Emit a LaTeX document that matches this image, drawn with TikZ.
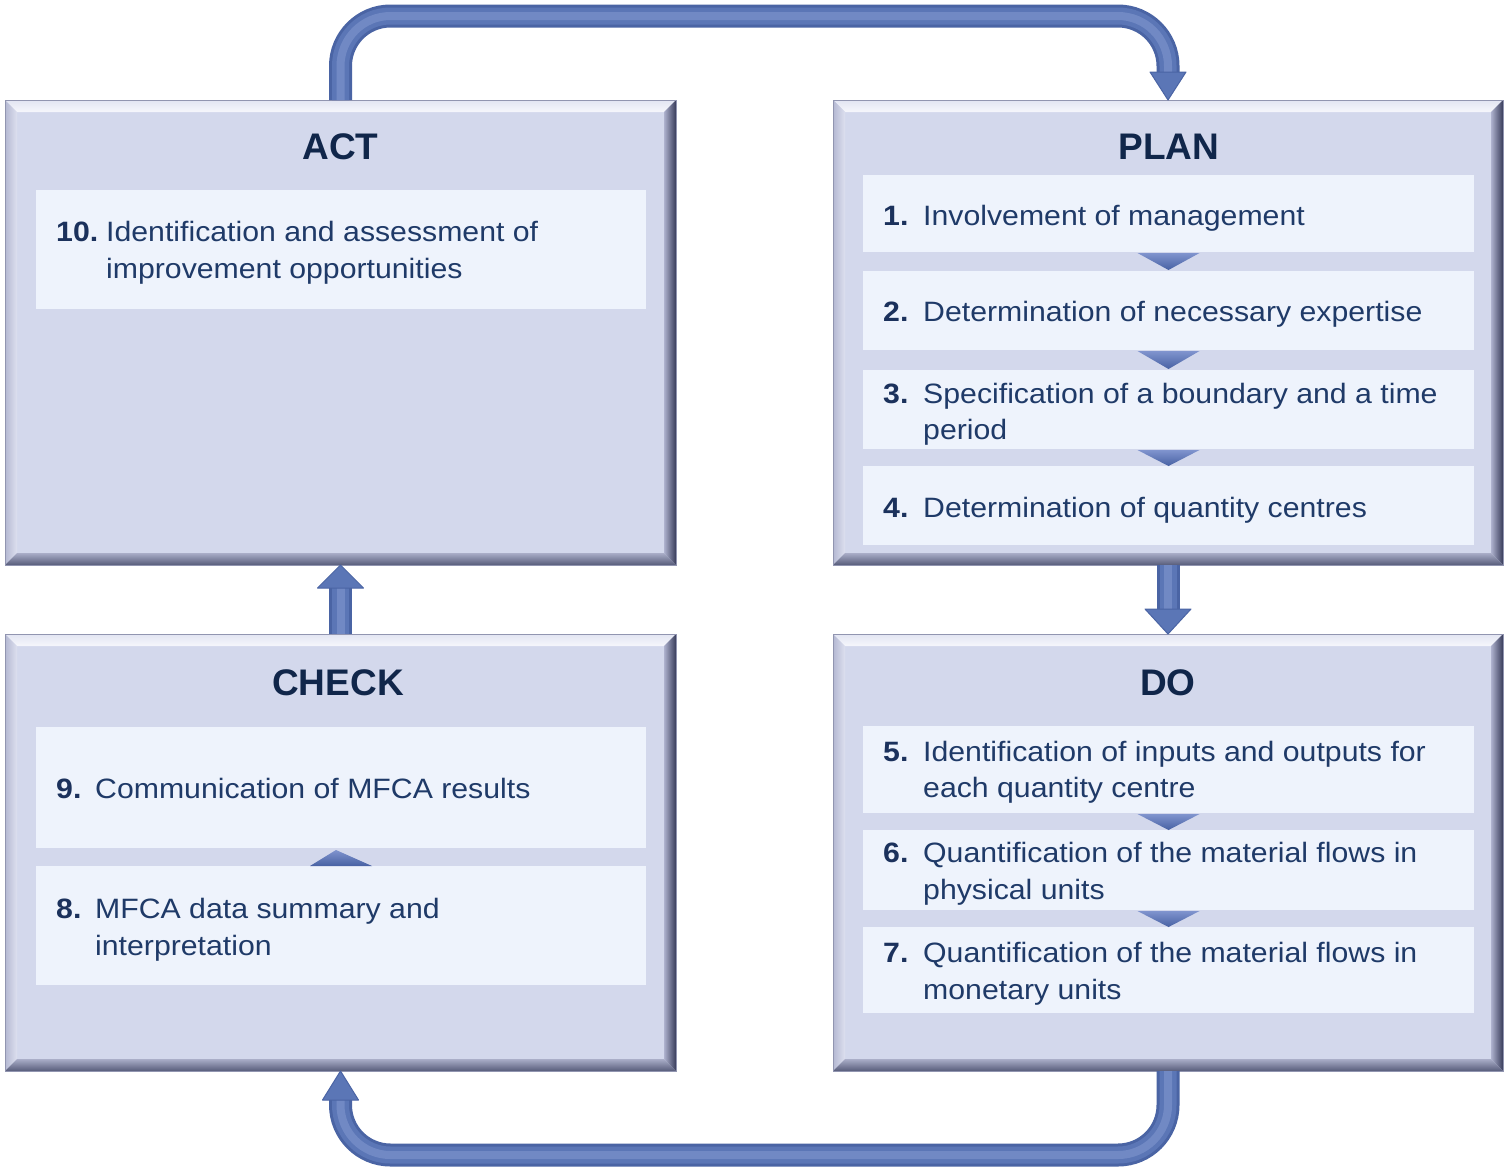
\documentclass[tikz,border=0pt]{standalone}
\usepackage{fontspec}
\setmainfont{Liberation Sans}
\newfontfamily\bodyfont{Liberation Sans}[FakeStretch=1.08]
\usetikzlibrary{calc}
\definecolor{boxfill}{HTML}{D3D8EC}
\definecolor{itemfill}{HTML}{EEF3FC}
\definecolor{bvtopA}{HTML}{E2E5F2}
\definecolor{bvtopB}{HTML}{F6F7FC}
\definecolor{bvlA}{HTML}{B4B8D2}
\definecolor{bvlB}{HTML}{DDE0EF}
\definecolor{bvrA}{HTML}{AEB2CE}
\definecolor{bvrB}{HTML}{383C5A}
\definecolor{bvbA}{HTML}{AAAEC8}
\definecolor{bvbB}{HTML}{575C7A}
\definecolor{boxline}{HTML}{9195B0}
\definecolor{txtcol}{HTML}{1F3A68}
\definecolor{numcol}{HTML}{1B315C}
\definecolor{titlecol}{HTML}{10264A}
\definecolor{arrmain}{HTML}{5B76B6}
\definecolor{arrdark}{HTML}{4A64A4}
\definecolor{arrhi}{HTML}{8DA2D6}
\definecolor{chevA}{HTML}{8094CE}
\definecolor{chevB}{HTML}{4761A3}
\newcommand\bevbox[4]{%
  \fill[boxfill] (#1,#2) rectangle (#3,#4);
  \shade[top color=bvtopA,bottom color=bvtopB] (#1,#2) -- (#3,#2) -- ({#3-12},{#2+12}) -- ({#1+12},{#2+12}) -- cycle;
  \shade[left color=bvlA,right color=bvlB] (#1,#2) -- ({#1+12},{#2+12}) -- ({#1+12},{#4-12}) -- (#1,#4) -- cycle;
  \shade[left color=bvrA,right color=bvrB] (#3,#2) -- (#3,#4) -- ({#3-12},{#4-12}) -- ({#3-12},{#2+12}) -- cycle;
  \shade[top color=bvbA,bottom color=bvbB] (#1,#4) -- (#3,#4) -- ({#3-12},{#4-12}) -- ({#1+12},{#4-12}) -- cycle;
  \draw[boxline,line width=0.8bp] (#1,#2) rectangle (#3,#4);
}
\begin{document}
\begin{tikzpicture}[x=1bp,y=-1bp,
  frame/.style={inner sep=0pt,outer sep=0pt,draw=none},
  item/.style={fill=itemfill,inner sep=0pt,outer sep=0pt,draw=none},
  num/.style={anchor=base west,inner sep=0pt,text=numcol,font=\bodyfont\bfseries\fontsize{28bp}{34bp}\selectfont},
  txt/.style={anchor=base west,inner sep=0pt,text=txtcol,font=\bodyfont\fontsize{28bp}{34bp}\selectfont},
  title/.style={anchor=base,inner sep=0pt,text=titlecol,font=\bfseries\fontsize{37bp}{40bp}\selectfont},
  tube/.style={draw=arrdark,line width=23bp,postaction={draw=arrmain,line width=17bp},postaction={draw=arrhi,line width=8bp,draw opacity=0.45}},
  head/.style={fill=arrmain,draw=arrdark,line width=1bp,line join=round},
  chev/.style={top color=chevA,bottom color=chevB}
]
\useasboundingbox (0,0) rectangle (1504,1168);
\fill[white] (0,0) rectangle (1504,1168);

% ---- boxes ----
\bevbox{5}{100}{676}{565}
\bevbox{833}{100}{1503}{565}
\bevbox{5}{634}{676}{1071}
\bevbox{833}{634}{1503}{1071}
\node[frame,minimum width=671bp,minimum height=465bp] (act) at (340.5,332.5) {};
\node[frame,minimum width=670bp,minimum height=465bp] (plan) at (1168,332.5) {};
\node[frame,minimum width=671bp,minimum height=437bp] (check) at (340.5,852.5) {};
\node[frame,minimum width=670bp,minimum height=437bp] (do) at (1168,852.5) {};

% ---- titles ----
\node[title] (tact) at (340.5,159) {ACT};
\node[title] (tplan) at (1169,159) {PLAN};
\node[title] (tcheck) at (338,695) {CHECK};
\node[title] (tdo) at (1168,695) {DO};

% ---- item boxes ----
\node[item,minimum width=610bp,minimum height=119bp] (a10) at (341,249.5) {};
\node[item,minimum width=611bp,minimum height=77bp] (p1) at (1168.5,213.5) {};
\node[item,minimum width=611bp,minimum height=79bp] (p2) at (1168.5,310.5) {};
\node[item,minimum width=611bp,minimum height=79bp] (p3) at (1168.5,409.5) {};
\node[item,minimum width=611bp,minimum height=79bp] (p4) at (1168.5,505.5) {};
\node[item,minimum width=610bp,minimum height=121bp] (c9) at (341,787.5) {};
\node[item,minimum width=610bp,minimum height=119bp] (c8) at (341,925.5) {};
\node[item,minimum width=611bp,minimum height=87bp] (d5) at (1168.5,769.5) {};
\node[item,minimum width=611bp,minimum height=80bp] (d6) at (1168.5,870) {};
\node[item,minimum width=611bp,minimum height=86bp] (d7) at (1168.5,970) {};

% ---- item texts ----
\node[num] (n10) at (56,241) {10.};
\node[txt] (t10a) at (106,241) {Identification and assessment of};
\node[txt] (t10b) at (106,278) {improvement opportunities};

\node[num] (n1) at (883,225) {1.};
\node[txt] (t1) at (923,225) {Involvement of management};
\node[num] (n2) at (883,321) {2.};
\node[txt] (t2) at (923,321) {Determination of necessary expertise};
\node[num] (n3) at (883,403) {3.};
\node[txt] (t3a) at (923,403) {Specification of a boundary and a time};
\node[txt] (t3b) at (923,439) {period};
\node[num] (n4) at (883,517) {4.};
\node[txt] (t4) at (923,517) {Determination of quantity centres};

\node[num] (n9) at (56,798) {9.};
\node[txt] (t9) at (95,798) {Communication of MFCA results};
\node[num] (n8) at (56,918) {8.};
\node[txt] (t8a) at (95,918) {MFCA data summary and};
\node[txt] (t8b) at (95,955) {interpretation};

\node[num] (n5) at (883,761) {5.};
\node[txt] (t5a) at (923,761) {Identification of inputs and outputs for};
\node[txt] (t5b) at (923,797) {each quantity centre};
\node[num] (n6) at (883,862) {6.};
\node[txt] (t6a) at (923,862) {Quantification of the material flows in};
\node[txt] (t6b) at (923,899) {physical units};
\node[num] (n7) at (883,962) {7.};
\node[txt] (t7a) at (923,962) {Quantification of the material flows in};
\node[txt] (t7b) at (923,999) {monetary units};

% ---- chevrons between items ----
\shade[chev] ($(p1.south)+(-31,1)$) -- ($(p1.south)+(31,1)$) -- ($(p2.north)+(0,-1)$) -- cycle;
\shade[chev] ($(p2.south)+(-31,1)$) -- ($(p2.south)+(31,1)$) -- ($(p3.north)+(0,-1)$) -- cycle;
\shade[chev] ($(p3.south)+(-31,1)$) -- ($(p3.south)+(31,1)$) -- ($(p4.north)+(0,0)$) -- cycle;
\shade[chev] ($(d5.south)+(-31,1)$) -- ($(d5.south)+(31,1)$) -- ($(d6.north)+(0,0)$) -- cycle;
\shade[chev] ($(d6.south)+(-31,1)$) -- ($(d6.south)+(31,1)$) -- ($(d7.north)+(0,0)$) -- cycle;
\shade[top color=chevA,bottom color=chevB] ($(c8.north)+(-31,0)$) -- ($(c8.north)+(31,0)$) -- ($(c9.south)+(-5,2)$) -- cycle;

% ---- big connectors ----
\coordinate (topend) at (1168,72);
\draw[tube,rounded corners=50bp] (act.north) |- (1168,16) -- (topend);
\draw[head] ($(topend)+(-18,0)$) -- ($(topend)+(18,0)$) -- (plan.north) -- cycle;

\coordinate (pdend) at (1168,609);
\draw[tube] (plan.south) -- (pdend);
\draw[head] ($(pdend)+(-23,0)$) -- ($(pdend)+(23,0)$) -- (do.north) -- cycle;

\coordinate (caend) at (340.5,588);
\draw[tube] (check.north) -- (caend);
\draw[head] ($(caend)+(-23,0)$) -- ($(caend)+(23,0)$) -- (act.south) -- cycle;

\coordinate (botend) at (340.5,1100);
\draw[tube,rounded corners=50bp] (do.south) |- (340.5,1155) -- (botend);
\draw[head] ($(botend)+(-18,0)$) -- ($(botend)+(18,0)$) -- (check.south) -- cycle;
\end{tikzpicture}
\end{document}
